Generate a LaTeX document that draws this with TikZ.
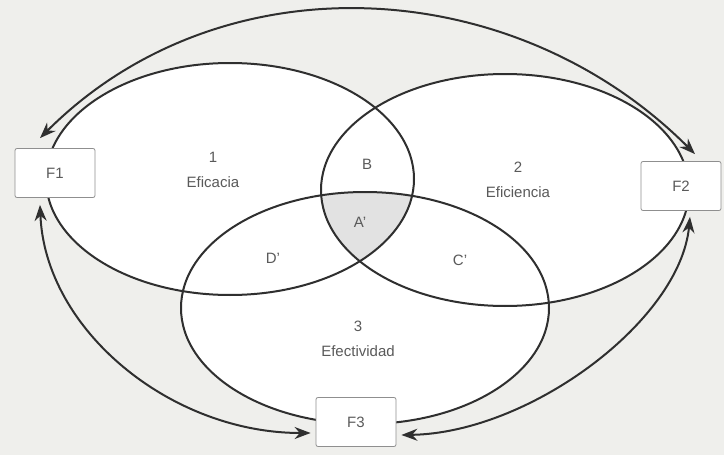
\documentclass[tikz,border=0pt]{standalone}
\usepackage{fontspec}
\setmainfont{Liberation Sans}
\usetikzlibrary{shapes.geometric}
\usetikzlibrary{positioning}
\usetikzlibrary{arrows.meta}
\definecolor{lineGray}{HTML}{2f2f2f}
\definecolor{textGray}{HTML}{5a5a5a}
\definecolor{paperGray}{HTML}{efefec}
\definecolor{shadeGray}{HTML}{e2e2e2}
\definecolor{boxGray}{HTML}{8f8f8f}
\pgfdeclarelayer{paper_bg}
\pgfdeclarelayer{set_bg}
\pgfsetlayers{paper_bg,set_bg,main}

\begin{document}
\begin{tikzpicture}[x=1pt, y=1pt, inner sep=0pt, align=center, font=\fontsize{15}{25}\selectfont,
    setline/.style={ellipse, draw=lineGray, line width=2pt, minimum width=2*\setRx, minimum height=2*\setRy},
    fbox/.style={rectangle, draw=boxGray, fill=white, line width=0.8pt, rounded corners=2pt, minimum width=80, minimum height=49, text=textGray},
    flow/.style={draw=lineGray, line width=2pt, {Stealth[length=16pt,width=12pt]}-{Stealth[length=16pt,width=12pt]}}]
    \pgfmathsetmacro{\setRx}{184}
    \pgfmathsetmacro{\setRy}{116}

    \begin{pgfonlayer}{paper_bg}
        \fill [paperGray] (0,0) rectangle (724,-455);
    \end{pgfonlayer}
    \useasboundingbox (0,0) rectangle (724,-455);

    \coordinate (cEficacia) at (230,-179);
    \coordinate (cEficiencia) at (505,-190);
    \coordinate (cEfectividad) at (365,-308);

    \node (setEficacia) [setline] at (cEficacia) {};
    \node (setEficiencia) [setline] at (cEficiencia) {};
    \node (setEfectividad) [setline] at (cEfectividad) {};

    \begin{pgfonlayer}{set_bg}
        \foreach \c in {cEficacia,cEficiencia,cEfectividad} {
            \fill [white] (\c) ellipse [x radius=\setRx, y radius=\setRy];
        }
        % zona comun A'
        \begin{scope}
            \clip (cEficacia) ellipse [x radius=\setRx, y radius=\setRy];
            \clip (cEficiencia) ellipse [x radius=\setRx, y radius=\setRy];
            \fill [shadeGray] (cEfectividad) ellipse [x radius=\setRx, y radius=\setRy];
        \end{scope}
    \end{pgfonlayer}

    \node (lblEficacia) [text=textGray] at (213,-170) {1\\Eficacia};
    \node (lblEficiencia) [text=textGray] at (518,-180) {2\\Eficiencia};
    \node (lblEfectividad) [text=textGray] at (358,-339) {3\\Efectividad};

    \node (zoneB) [text=textGray] at (367,-164) {B};
    \node (zoneA) [text=textGray] at (360,-222) {A'};
    \node (zoneD) [text=textGray] at (273,-258) {D'};
    \node (zoneC) [text=textGray] at (460,-260) {C'};

    \node (F1) [fbox] at (55,-173) {F1};
    \node (F2) [fbox] at (681,-186) {F2};
    \node (F3) [fbox] at (356,-422) {F3};

    \draw [flow] ([shift={(-15,10)}]F1.north) to[out=45, in=135] ([shift={(14,7)}]F2.north);
    \draw [flow] ([shift={(-15,-7)}]F1.south) .. controls +(5,-125) and +(-140,0) .. ([shift={(-5,-11)}]F3.west);
    \draw [flow] ([shift={(5,-13)}]F3.east) .. controls +(128,2) and +(-10,-104) .. ([shift={(9,-6)}]F2.south);

\end{tikzpicture}
\end{document}
